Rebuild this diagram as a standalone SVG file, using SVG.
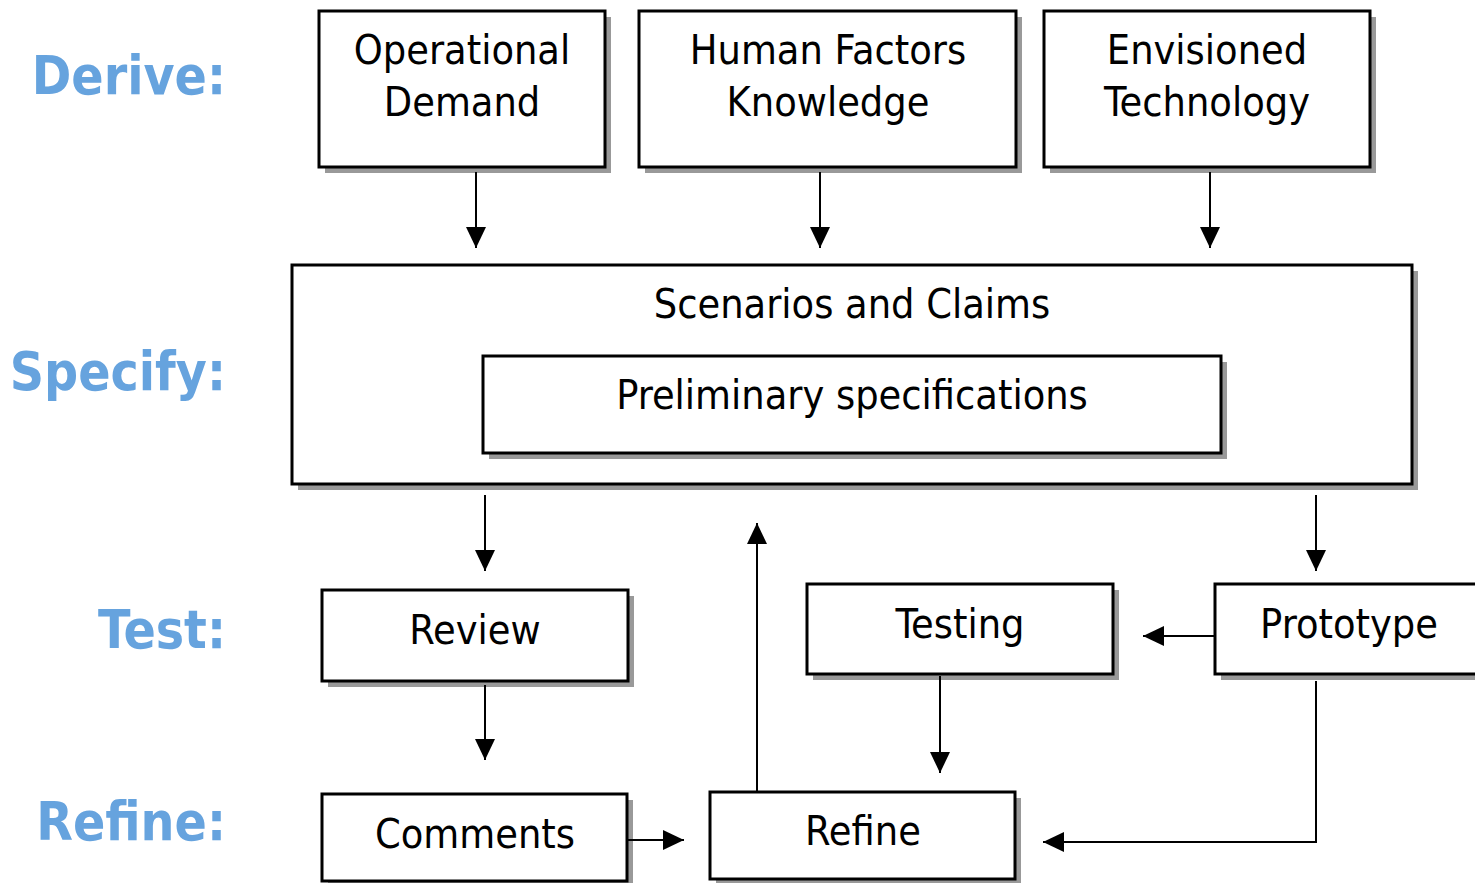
<svg xmlns="http://www.w3.org/2000/svg" width="1475" height="883" viewBox="0 0 1475 883">
<style>
.bg{fill:#fff}
.sh{fill:#999}
.box{fill:#fff;stroke:#000;stroke-width:3}
.t{font-family:"DejaVu Sans Condensed","DejaVu Sans",sans-serif;font-stretch:condensed;font-size:41px;fill:#000;text-anchor:middle}
.lab{font-family:"DejaVu Sans Condensed","DejaVu Sans",sans-serif;font-stretch:condensed;font-weight:bold;font-size:53px;fill:#66a3de;text-anchor:end}
.c{fill:none;stroke:#000;stroke-width:2}
</style>
<defs>
<marker id="ah" markerUnits="userSpaceOnUse" markerWidth="22" markerHeight="22" refX="21" refY="10" orient="auto">
<path d="M0,0 L21,10 L0,20 Z" fill="#000"/>
</marker>
</defs>
<rect class="bg" x="0" y="0" width="1475" height="883"/>
<g id="labels">
<text class="lab" x="226" y="94">Derive:</text>
<text class="lab" x="226" y="390">Specify:</text>
<text class="lab" x="226" y="648">Test:</text>
<text class="lab" x="226" y="840">Refine:</text>
</g>
<g id="operational-demand">
<rect class="sh" x="325" y="17" width="286" height="156"/>
<rect class="box" x="319" y="11" width="286" height="156"/>
<text class="t" x="462" y="64">Operational</text>
<text class="t" x="462" y="116">Demand</text>
</g>
<g id="human-factors">
<rect class="sh" x="645" y="17" width="377" height="156"/>
<rect class="box" x="639" y="11" width="377" height="156"/>
<text class="t" x="828" y="64">Human Factors</text>
<text class="t" x="828" y="116">Knowledge</text>
</g>
<g id="envisioned-technology">
<rect class="sh" x="1050" y="17" width="326" height="156"/>
<rect class="box" x="1044" y="11" width="326" height="156"/>
<text class="t" x="1207" y="64">Envisioned</text>
<text class="t" x="1207" y="116">Technology</text>
</g>
<g id="scenarios">
<rect class="sh" x="298" y="271" width="1120" height="219"/>
<rect class="box" x="292" y="265" width="1120" height="219"/>
<text class="t" x="852" y="318">Scenarios and Claims</text>
</g>
<g id="preliminary">
<rect class="sh" x="489" y="362" width="738" height="97"/>
<rect class="box" x="483" y="356" width="738" height="97"/>
<text class="t" x="852" y="409">Preliminary specifications</text>
</g>
<g id="review">
<rect class="sh" x="328" y="596" width="306" height="91"/>
<rect class="box" x="322" y="590" width="306" height="91"/>
<text class="t" x="475" y="644">Review</text>
</g>
<g id="testing">
<rect class="sh" x="813" y="590" width="306" height="90"/>
<rect class="box" x="807" y="584" width="306" height="90"/>
<text class="t" x="960" y="638">Testing</text>
</g>
<g id="prototype">
<rect class="sh" x="1221" y="590" width="270" height="90"/>
<rect class="box" x="1215" y="584" width="270" height="90"/>
<text class="t" x="1349" y="638">Prototype</text>
</g>
<g id="comments">
<rect class="sh" x="328" y="800" width="305" height="88"/>
<rect class="box" x="322" y="794" width="305" height="87"/>
<text class="t" x="475" y="848">Comments</text>
</g>
<g id="refine">
<rect class="sh" x="716" y="798" width="305" height="88"/>
<rect class="box" x="710" y="792" width="305" height="87"/>
<text class="t" x="863" y="845">Refine</text>
</g>
<g id="connectors">
<line class="c" x1="476" y1="172" x2="476" y2="248" marker-end="url(#ah)"/>
<line class="c" x1="820" y1="172" x2="820" y2="248" marker-end="url(#ah)"/>
<line class="c" x1="1210" y1="172" x2="1210" y2="248" marker-end="url(#ah)"/>
<line class="c" x1="485" y1="495" x2="485" y2="571" marker-end="url(#ah)"/>
<line class="c" x1="1316" y1="495" x2="1316" y2="571" marker-end="url(#ah)"/>
<line class="c" x1="757" y1="791" x2="757" y2="523" marker-end="url(#ah)"/>
<line class="c" x1="1214" y1="636" x2="1143" y2="636" marker-end="url(#ah)"/>
<line class="c" x1="940" y1="676" x2="940" y2="773" marker-end="url(#ah)"/>
<line class="c" x1="485" y1="685" x2="485" y2="760" marker-end="url(#ah)"/>
<line class="c" x1="628" y1="840" x2="684" y2="840" marker-end="url(#ah)"/>
<polyline class="c" points="1316,681 1316,842 1043,842" marker-end="url(#ah)"/>
</g>
</svg>
